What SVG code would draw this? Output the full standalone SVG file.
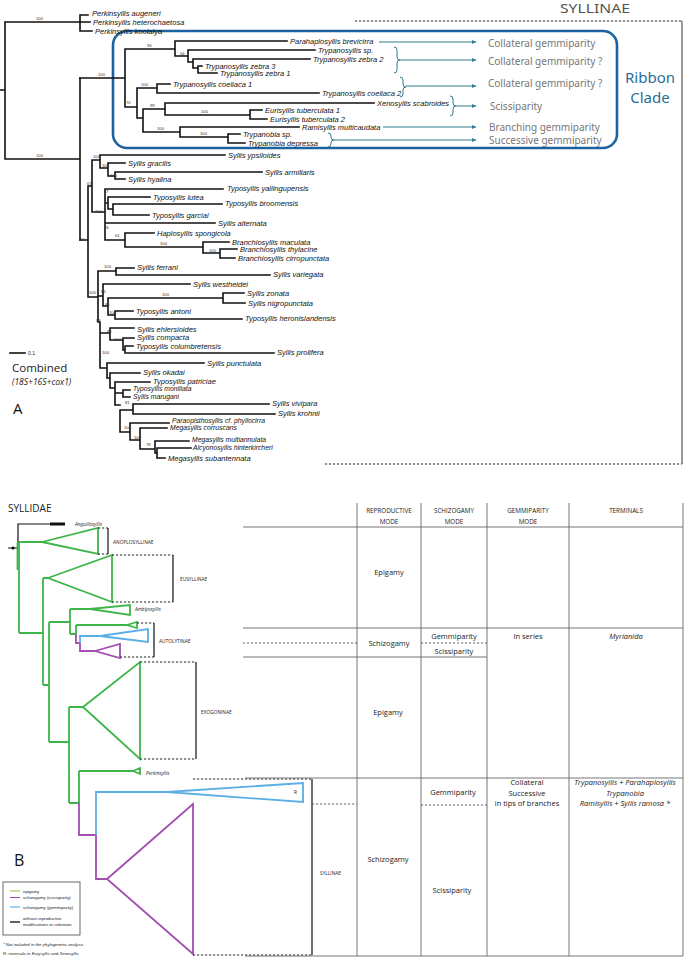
<svg xmlns="http://www.w3.org/2000/svg" width="685" height="959" viewBox="0 0 685 959">
<style>
.t{font-family:"Liberation Sans",Arial,sans-serif;font-style:italic;font-size:7.5px;fill:#111}
.ts{font-size:6.8px}
.bs{font-family:"Liberation Sans",Arial,sans-serif;font-size:4.2px;fill:#333}
.br{fill:none;stroke:#111;stroke-width:1.6;stroke-linecap:square}
.tl{fill:none;stroke:#2e7d8c;stroke-width:1}
.rt{font-family:"Noto Sans","Open Sans",sans-serif;font-size:10px;fill:#777}
.g{fill:none;stroke:#3db549;stroke-width:1.8}
.p{fill:none;stroke:#a24fb0;stroke-width:1.8}
.b{fill:none;stroke:#5aaee3;stroke-width:1.8}
.dash{fill:none;stroke:#222;stroke-width:1;stroke-dasharray:2.2 1.8}
.brk{fill:none;stroke:#111;stroke-width:1.2}
.tab{fill:none;stroke:#666;stroke-width:0.9}
.tabd{fill:none;stroke:#555;stroke-width:0.9;stroke-dasharray:2.2 1.8}
.tx{font-family:"Open Sans","Noto Sans",sans-serif;font-size:7.5px;fill:#222;text-anchor:middle}
.hd{font-family:"Open Sans","Noto Sans",sans-serif;font-size:6.3px;fill:#222;text-anchor:middle}
.sub{font-family:"Open Sans","Noto Sans",sans-serif;font-size:4.8px;fill:#222}
.it{font-style:italic}
.lg{font-family:"Liberation Sans",Arial,sans-serif;font-size:4.3px;fill:#222}
</style>
<defs>
<marker id="ah" viewBox="0 0 6 6" refX="6" refY="3" markerWidth="4" markerHeight="4" orient="auto"><path d="M0,0 L6,3 L0,6 Z" fill="#2e7d8c"/></marker>
</defs>
<rect width="685" height="959" fill="#fff"/>

<!-- PANEL A frame -->
<g id="syllinae-frame">
<text x="560" y="13" font-family="Noto Sans,Open Sans,sans-serif" font-size="12" fill="#555" textLength="70" lengthAdjust="spacingAndGlyphs">SYLLINAE</text>
<path class="dash" d="M355,21 H682 M325,464 H682"/>
<path fill="none" stroke="#333" stroke-width="1" d="M682,21 V464"/>
</g>

<g id="ribbon-box">
<rect x="113" y="31" width="504" height="117" rx="14" fill="none" stroke="#1d62a0" stroke-width="2.6"/>
<text x="650" y="83" font-family="Noto Sans,Open Sans,sans-serif" font-size="15" fill="#2a6d97" text-anchor="middle">Ribbon</text>
<text x="650" y="103" font-family="Noto Sans,Open Sans,sans-serif" font-size="15" fill="#2a6d97" text-anchor="middle">Clade</text>
</g>

<g id="connectors-A">
<path class="br" d="M0,90 H5 M5,22 V159 M5,22 H80 M80,15 V31 M80,15 H88 M80,22 H90 M80,31 H92 M5,159 H80 M80,78 V240"/>
<!-- ribbon clade -->
<path class="br" d="M80,78 H125 M125,49 V107 M125,49 H175 M175,41 V56 M175,41 H287 M175,56 H188 M188,50 V62 M188,50 H315 M188,62 H193 M193,59 V68 M193,59 H310 M193,68 H198 M198,66 V73 M198,66 H202 M198,73 H217
M125,107 H137 M137,88 V118 M137,88 H157 M157,84 V93 M157,84 H170 M157,93 H319
M137,118 H143 M143,109 V132 M143,109 H165 M165,103 V115 M165,103 H374 M165,115 H250 M250,110 V119 M250,110 H262 M250,119 H267
M143,132 H180 M180,127 V137 M180,127 H299 M180,137 H228 M228,134 V143 M228,134 H240 M228,143 H245"/>
<!-- rest of Syllinae -->
<path class="br" d="M80,240 H88 M88,186 V297 M88,186 H92 M92,160 V212 M92,160 H100 M100,155 V168 M100,155 H225 M100,168 H108 M108,163 V176 M108,163 H125 M108,176 H115 M115,172 V179 M115,172 H262 M115,179 H125
M92,212 H105 M105,189 V240 M105,189 H223 M105,203 H108 M108,197 V209 M108,197 H150 M108,209 H113 M113,204 V215 M113,204 H222 M113,215 H149 M105,223 H215 M105,240 H125 M125,233 V247 M125,233 H154 M125,247 H203 M203,242 V253 M203,242 H229 M203,253 H220 M220,249 V258 M220,249 H237 M220,258 H235
M88,297 H98 M98,271 V322 M98,271 H116 M116,268 V275 M116,268 H134 M116,275 H270
M98,296 H103 M103,284 V306 M103,284 H190 M103,306 H108 M108,298 V315 M108,298 H223 M223,293 V303 M223,293 H244 M223,303 H245 M108,315 H115 M115,311 V319 M115,311 H133 M115,319 H242
M98,322 H100 M100,322 V368 M100,333 H110 M110,328 V340 M110,328 H134 M110,340 H123 M123,338 V350 M123,338 H134 M123,350 H125 M125,346 V353 M125,346 H133 M125,353 H274
M100,368 H107 M107,363 V378 M107,363 H204 M107,378 H110 M110,373 V388 M110,373 H140 M110,388 H115 M115,382 V405 M115,382 H150 M115,393 H123 M123,390 V397 M123,390 H130 M123,397 H130
M115,405 H120 M120,410 V432 M120,410 H133 M133,404 V414 M133,404 H269 M133,414 H275 M120,432 H130 M130,423 V440 M130,423 H169 M130,440 H140 M140,428 V449 M140,428 H167 M140,449 H155 M155,441 V453 M155,441 H189 M155,453 H157 M157,448 V458 M157,448 H191 M157,458 H165"/>
<!-- scale bar -->
<path class="br" stroke-width="1" d="M10,353 H25"/>
</g>

<g id="bootstrap-A">
<text class="bs" x="36" y="20">100</text>
<text class="bs" x="98" y="76">100</text>
<text class="bs" x="147" y="47">94</text>
<text class="bs" x="180" y="55">54</text>
<text class="bs" x="141" y="86">100</text>
<text class="bs" x="126" y="104">70</text>
<text class="bs" x="150" y="107">99</text>
<text class="bs" x="201" y="113">100</text>
<text class="bs" x="157" y="130">100</text>
<text class="bs" x="200" y="135">100</text>
<text class="bs" x="36" y="157">100</text>
<text class="bs" x="93" y="158">100</text>
<text class="bs" x="102" y="167">100</text>
<text class="bs" x="110" y="177">100</text>
<text class="bs" x="87" y="185">67</text>
<text class="bs" x="104" y="193">57</text>
<text class="bs" x="95" y="213">100</text>
<text class="bs" x="104" y="229">65</text>
<text class="bs" x="115" y="237">61</text>
<text class="bs" x="160" y="245">100</text>
<text class="bs" x="209" y="252">100</text>
<text class="bs" x="80" y="241">60</text>
<text class="bs" x="104" y="268">100</text>
<text class="bs" x="89" y="294">100</text>
<text class="bs" x="101" y="293">84</text>
<text class="bs" x="162" y="296">100</text>
<text class="bs" x="105" y="306">84</text>
<text class="bs" x="109" y="314">100</text>
<text class="bs" x="96" y="322">88</text>
<text class="bs" x="107" y="333">86</text>
<text class="bs" x="114" y="341">100</text>
<text class="bs" x="102" y="354">100</text>
<text class="bs" x="125" y="404">81</text>
<text class="bs" x="124" y="429">100</text>
<text class="bs" x="134" y="439">100</text>
<text class="bs" x="146" y="446">78</text>
</g>

<g id="taxa-A">
<text class="t" x="92" y="15.5">Perkinsyllis augeneri</text>
<text class="t" x="93" y="24.5">Perkinsyllis heterochaetosa</text>
<text class="t" x="95" y="33.5">Perkinsyllis koolalya</text>
<text class="t" x="290" y="43.5">Parahaplosyllis brevicirra</text>
<text class="t" x="318" y="52.5">Trypanosyllis sp.</text>
<text class="t" x="313" y="61.5">Trypanosyllis zebra 2</text>
<text class="t" x="205" y="68.5">Trypanosyllis zebra 3</text>
<text class="t" x="220" y="75.5">Trypanosyllis zebra 1</text>
<text class="t" x="173" y="86.5">Trypanosyllis coeliaca 1</text>
<text class="t" x="322" y="95.5">Trypanosyllis coeliaca 2</text>
<text class="t" x="377" y="105.5">Xenosyllis scabroides</text>
<text class="t" x="265" y="112.5">Eurisyllis tuberculata 1</text>
<text class="t" x="270" y="121.5">Eurisyllis tuberculata 2</text>
<text class="t" x="302" y="129.5">Ramisyllis multicaudata</text>
<text class="t" x="243" y="136.5">Trypanobia sp.</text>
<text class="t" x="248" y="145.5">Trypanobia depressa</text>
<text class="t" x="228" y="157.5">Syllis ypsiloides</text>
<text class="t" x="128" y="165.5">Syllis gracilis</text>
<text class="t" x="265" y="174.5">Syllis armillaris</text>
<text class="t" x="128" y="181.5">Syllis hyalina</text>
<text class="t" x="227" y="190.5">Typosyllis yallingupensis</text>
<text class="t" x="153" y="199.5">Typosyllis lutea</text>
<text class="t" x="225" y="205.5">Typosyllis broomensis</text>
<text class="t" x="152" y="217.5">Typosyllis garciai</text>
<text class="t" x="218" y="225.5">Syllis alternata</text>
<text class="t" x="157" y="235.5">Haplosyllis spongicola</text>
<text class="t" x="232" y="244.5">Branchiosyllis maculata</text>
<text class="t" x="240" y="251.5">Branchiosyllis thylacine</text>
<text class="t" x="238" y="260.5">Branchiosyllis cirropunctata</text>
<text class="t" x="137" y="269.5">Syllis ferrani</text>
<text class="t" x="273" y="276.5">Syllis variegata</text>
<text class="t" x="193" y="286.5">Syllis westheidei</text>
<text class="t" x="247" y="295.5">Syllis zonata</text>
<text class="t" x="248" y="305.5">Syllis nigropunctata</text>
<text class="t" x="136" y="313.5">Typosyllis antoni</text>
<text class="t" x="245" y="320.5">Typosyllis heronislandensis</text>
<text class="t" x="137" y="331.5">Syllis ehlersioides</text>
<text class="t" x="137" y="339.5">Syllis compacta</text>
<text class="t" x="136" y="348.5">Typosyllis columbretensis</text>
<text class="t" x="277" y="354.5">Syllis prolifera</text>
<text class="t" x="207" y="365.5">Syllis punctulata</text>
<text class="t" x="143" y="374.5">Syllis okadai</text>
<text class="t" x="153" y="384">Typosyllis patriciae</text>
<text class="t ts" x="133" y="391">Typosyllis moniliata</text>
<text class="t ts" x="133" y="398.5">Syllis marugani</text>
<text class="t" x="272" y="405.5">Syllis vivipara</text>
<text class="t" x="278" y="415.5">Syllis krohnii</text>
<text class="t ts" x="172" y="423">Paraopisthosyllis cf. phyllocirra</text>
<text class="t ts" x="170" y="430">Megasyllis corruscans</text>
<text class="t ts" x="192" y="442">Megasyllis multiannulata</text>
<text class="t ts" x="193" y="449.5">Alcyonosyllis hinterkircheri</text>
<text class="t" x="168" y="460.5">Megasyllis subantennata</text>
</g>

<g id="ribbon-modes">
<path class="tl" marker-end="url(#ah)" d="M379,42 H476"/>
<path class="tl" d="M394,47 q3,0 3,3 v7 q0,3 3,3 q-3,0 -3,3 v7 q0,3 -3,3"/>
<path class="tl" marker-end="url(#ah)" d="M400,60 H476"/>
<path class="tl" d="M400,77 q3,0 3,3 v4 q0,3 3,3 q-3,0 -3,3 v4 q0,3 -3,3"/>
<path class="tl" marker-end="url(#ah)" d="M406,86 H476"/>
<path class="tl" d="M450,96 q3,0 3,3 v4 q0,3 3,3 q-3,0 -3,3 v4 q0,3 -3,3"/>
<path class="tl" marker-end="url(#ah)" d="M456,106 H476"/>
<path class="tl" marker-end="url(#ah)" d="M383,127 H476"/>
<path class="tl" d="M328,133 q3,0 3,3 v1 q0,3 3,3 q-3,0 -3,3 v1 q0,3 -3,3"/>
<path class="tl" marker-end="url(#ah)" d="M334,140 H476"/>
<text class="rt" x="488" y="46.5">Collateral gemmiparity</text>
<text class="rt" x="488" y="64.5">Collateral gemmiparity ?</text>
<text class="rt" x="488" y="87">Collateral gemmiparity ?</text>
<text class="rt" x="490" y="109.5">Scissiparity</text>
<text class="rt" x="489" y="130.5">Branching gemmiparity</text>
<text class="rt" x="489" y="143.5">Successive gemmiparity</text>
</g>

<g id="legend-A">
<text x="28" y="355" font-family="Liberation Sans,Arial,sans-serif" font-size="5" fill="#222">0.1</text>
<text x="12" y="372" font-family="Open Sans,Noto Sans,sans-serif" font-size="11.5" fill="#222">Combined</text>
<text x="12" y="385" font-family="Open Sans,Noto Sans,sans-serif" font-size="8.5" font-style="italic" fill="#222">(18S+16S+cox1)</text>
<text x="13" y="414" font-family="Open Sans,Noto Sans,sans-serif" font-size="15" fill="#111">A</text>
</g>

<!-- PANEL B -->
<text x="8" y="512" font-family="Open Sans,Noto Sans,sans-serif" font-size="10" fill="#222">SYLLIDAE</text>
<text x="14" y="866" font-family="Open Sans,Noto Sans,sans-serif" font-size="16" fill="#111">B</text>

<g id="connectors-B">
<path fill="none" stroke="#111" stroke-width="1.2" d="M8,548 H18 M18,548 V524 H50"/>
<path fill="none" stroke="#111" stroke-width="3" d="M50,524 H65"/>
<circle cx="13" cy="548" r="1.6" fill="#111"/>
<path class="g" stroke-width="3" d="M17.5,543 V570"/>
<path class="g" d="M19,542 V633 M19,542 H42 M42,542 L98,528 L98,554 Z M19,633 H43 M43,578 V685 M43,578 H48 M48,578 L112,555 L112,602 Z M43,685 H49 M49,622 V742 M49,622 H70 M70,609 V634 M70,609 H90 M90,609 L130,605 L130,615 Z M70,634 H76 M76,625 V634 M76,625 H127 M127,625 L137,622 L137,628 Z M49,742 H69 M69,707 V803 M69,707 H83 M83,707 L140,662 L140,759 Z M69,803 H79 M79,771 V803 M79,771 H133 M133,771 L140,768 L140,774 Z"/>
<path class="p" d="M76,634 V643 H80 M80,643 V651 H95 M95,651 L120,644 L120,658 Z M79,803 V835 H96 M96,835 V879 H107 M107,879 L193,804 L193,954 Z"/>
<path class="b" d="M80,643 V636 H100 M100,636 L148,629 L148,642 Z M96,835 V792 H167 M167,792 L303,783 L303,802 Z"/>
</g>

<g id="subfamily-brackets">
<path class="dash" d="M98,528 H108 M98,554 H108 M112,555 H173 M112,602 H173 M137,623 H154 M120,657 H154 M140,662 H196 M140,759 H196 M193,779 H312 M193,955 H312"/>
<path class="brk" d="M108,528 V554 M173,555 V602 M154,623 V657 M196,662 V759 M312,779 V955"/>
<text class="sub it" x="75" y="526" font-size="6">Anguillosyllis</text>
<text class="sub" x="113" y="544">ANOPLOSYLLINAE</text>
<text class="sub" x="180" y="581">EUSYLLINAE</text>
<text class="sub it" x="135" y="611" font-size="6.5">Amblyosyllis</text>
<text class="sub" x="159" y="643">AUTOLYTINAE</text>
<text class="sub" x="201" y="714">EXOGONINAE</text>
<text class="sub it" x="146" y="775" font-size="6.5">Perkinsyllis</text>
<text class="sub" x="294" y="794">R</text>
<text class="sub" x="320" y="875">SYLLINAE</text>
</g>

<g id="table">
<path class="tab" d="M357,503 V956 M421,503 V956 M487,503 V956 M569,503 V956 M683,503 V956 M243,527 H683 M243,628 H683 M243,657 H487 M245,778 H683 M245,956 H683"/>
<path class="tabd" d="M243,643 H357 M421,643 H487 M312,804 H357 M421,805 H487"/>
<text class="hd" x="389" y="513">REPRODUCTIVE</text>
<text class="hd" x="389" y="524">MODE</text>
<text class="hd" x="454" y="513">SCHIZOGAMY</text>
<text class="hd" x="454" y="524">MODE</text>
<text class="hd" x="528" y="513">GEMMIPARITY</text>
<text class="hd" x="528" y="524">MODE</text>
<text class="hd" x="626" y="513">TERMINALS</text>
<text class="tx" x="389" y="575">Epigamy</text>
<text class="tx" x="389" y="646">Schizogamy</text>
<text class="tx" x="454" y="638.5">Gemmiparity</text>
<text class="tx" x="454" y="653.5">Scissiparity</text>
<text class="tx" x="528" y="638.5">In series</text>
<text class="tx it" x="626" y="638.5">Myrianida</text>
<text class="tx" x="388" y="714.5">Epigamy</text>
<text class="tx" x="453" y="794.5">Gemmiparity</text>
<text class="tx" x="527" y="784.5">Collateral</text>
<text class="tx" x="527" y="795.5">Successive</text>
<text class="tx" x="527" y="805.5">in tips of branches</text>
<text class="tx it" x="625" y="784.5" font-size="6.6">Trypanosyllis + Parahaplosyllis</text>
<text class="tx it" x="625" y="795.5" font-size="6.6">Trypanobia</text>
<text class="tx it" x="625" y="805.5" font-size="6.6">Ramisyllis + Syllis ramosa *</text>
<text class="tx" x="388" y="861.5">Schizogamy</text>
<text class="tx" x="452" y="892.5">Scissiparity</text>
</g>

<g id="legend-B">
<rect x="3" y="882" width="77" height="53" fill="#fff" stroke="#444" stroke-width="0.8"/>
<path stroke="#8cc63f" stroke-width="1" d="M10,891 H20"/>
<path stroke="#8e44ad" stroke-width="1" d="M10,897.5 H20"/>
<path stroke="#3fa9f5" stroke-width="1" d="M10,907 H20"/>
<path stroke="#111" stroke-width="1.3" d="M10,922 H20"/>
<text class="lg" x="23" y="892.5">epigamy</text>
<text class="lg" x="23" y="899">schizogamy (scissiparity)</text>
<text class="lg" x="23" y="908.5">schizogamy (gemmiparity)</text>
<text class="lg" x="23" y="919.5">without reproductive</text>
<text class="lg" x="23" y="926">modifications or unknown</text>
<text class="lg" x="3" y="946" font-style="italic">* Not included in the phylogenetic analysis</text>
<text class="lg" x="3" y="955" font-size="5.2">R: reversals in <tspan font-style="italic">Eurysyllis</tspan> and <tspan font-style="italic">Xenosyllis</tspan></text>
</g>
</svg>
